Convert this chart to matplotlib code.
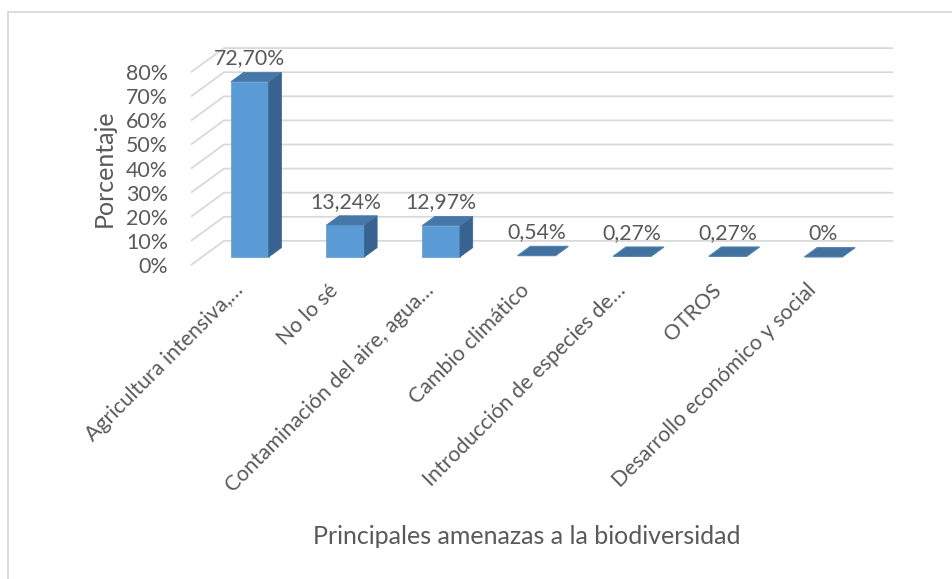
import matplotlib
matplotlib.use("Agg")
import matplotlib.pyplot as plt
from matplotlib.patches import Polygon
from matplotlib.lines import Line2D

plt.rcParams['font.family'] = ['Lato', 'DejaVu Sans']

categories = ['Agricultura intensiva,…', 'No lo sé', 'Contaminación del aire, agua…',
              'Cambio climático', 'Introducción de especies de…', 'OTROS',
              'Desarrollo económico y social']
values = [72.70, 13.24, 12.97, 0.54, 0.27, 0.27, 0.0]
yticks = [0, 10, 20, 30, 40, 50, 60, 70, 80]

xlabel = 'Principales amenazas a la biodiversidad'
ylabel = 'Porcentaje'

W, H = 953, 579
TXT = '#595959'
GRID = '#D9D9D9'
FRONT = '#5B9BD5'
TOP = '#4677A8'
SIDE = '#386390'

# oblique "3d" look: depth vector in data units (categories, percent)
DX, DY = 0.345, 10.0
F0, F1 = 0.333, 0.72      # bar front / back depth
BW = 0.397                # bar width

def proj(x, v, f):
    return (x + f * DX, v + f * DY)

def fmt(v):
    if v == 0:
        return '0%'
    return ('%.2f' % v).replace('.', ',') + '%'

fig = plt.figure(figsize=(W / 100, H / 100), dpi=100)
ax = fig.add_axes([0, 0, 1, 1])
# pixel mapping: x_px = 238.8 + 95.6*x, y_px = 265 - 2.41*v
ax.set_xlim(-238.8 / 95.6, (W - 238.8) / 95.6)
ax.set_ylim((265 - H) / 2.41, 265 / 2.41)
ax.axis('off')

n = len(categories)
# gridlines: left wall diagonal + back wall
for v in yticks:
    p0 = proj(-0.5, v, 0)
    p1 = proj(-0.5, v, 1)
    p2 = proj(n - 0.5, v, 1)
    ax.plot([p0[0], p1[0], p2[0]], [p0[1], p1[1], p2[1]], color=GRID, lw=1.3,
            solid_capstyle='butt', zorder=1)
    ax.text(p0[0] - 0.24, v - 0.8, '%d%%' % v, ha='right', va='center',
            fontsize=15.4, color=TXT)

for i, v in enumerate(values):
    x0, x1 = i - BW / 2, i + BW / 2
    top = [proj(x0, v, F0), proj(x1, v, F0), proj(x1, v, F1), proj(x0, v, F1)]
    if v > 0.6:
        front = [proj(x0, 0, F0), proj(x1, 0, F0), proj(x1, v, F0), proj(x0, v, F0)]
        side = [proj(x1, 0, F0), proj(x1, v, F0), proj(x1, v, F1), proj(x1, 0, F1)]
        ax.add_patch(Polygon(front, closed=True, fc=FRONT, ec=FRONT, lw=0.5, zorder=3))
        ax.add_patch(Polygon(side, closed=True, fc=SIDE, ec=SIDE, lw=0.5, zorder=3))
        ax.add_patch(Polygon(top, closed=True, fc=TOP, ec=TOP, lw=0.5, zorder=4))
    else:
        ax.add_patch(Polygon(top, closed=True, fc='#41719C', ec='#4C80B5', lw=0.8, zorder=4))
    cx = i + F0 * DX
    ax.text(cx, v + F1 * DY + 5.8, fmt(v), ha='center', va='center',
            fontsize=15.3, color=TXT, zorder=5)
    ax.text(cx - 0.178, -6.2, categories[i], rotation=45, rotation_mode='anchor',
            ha='right', va='top', fontsize=15.3, color=TXT)

fig.text(104 / W, 1 - 168 / H, ylabel, rotation=90, ha='center', va='center',
         fontsize=18, color=TXT)
fig.text(527 / W, 1 - 537 / H, xlabel, ha='center', va='center',
         fontsize=18, color=TXT)

# chart frame
fig.add_artist(Line2D([8.5 / W, 8.5 / W], [0, 1 - 11.5 / H], color=GRID, lw=1.3))
fig.add_artist(Line2D([8.5 / W, 1], [1 - 11.5 / H, 1 - 11.5 / H], color=GRID, lw=1.3))

fig.savefig('out.png', dpi=100)
